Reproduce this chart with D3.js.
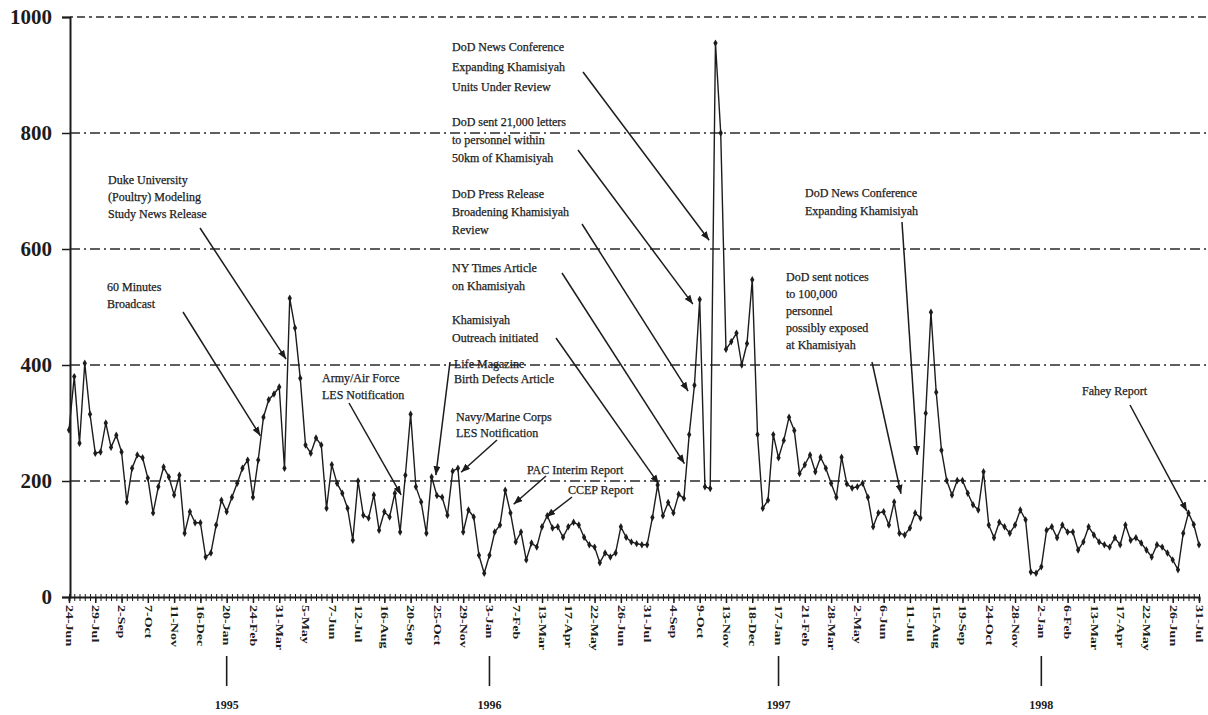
<!DOCTYPE html>
<html>
<head>
<meta charset="utf-8">
<script src="https://cdn.jsdelivr.net/npm/d3@7"></script>
<style>
  body { margin: 0; background: #fff; }
  #container { width: 1208px; height: 715px; overflow: hidden; }
</style>
</head>
<body>
<div id="container"></div>
<script>
let w = 1208;
let h = 715;

// weekly counts, 24-Jun-1994 .. 31-Jul-1998
let weeklyCounts = [
  288, 380, 265, 403, 315, 248, 250, 300, 258, 279,
  250, 164, 222, 245, 240, 205, 145, 190, 224, 207,
  176, 210, 110, 147, 128, 128, 69, 76, 124, 167,
  147, 172, 196, 222, 236, 172,
  236, 310, 340, 350, 362, 222, 515, 464, 377, 262,
  248, 274, 262, 153, 228, 196, 179, 153, 98, 200,
  141, 136, 176, 115, 147, 138, 179, 112, 210, 315,
  190, 164, 110, 207, 175, 172, 141, 217, 222, 112,
  150, 138, 72, 41, 72, 112, 124, 184, 145, 95,
  112, 64, 93, 86, 121, 140, 119, 121, 103, 121,
  129, 124, 103, 90, 86, 59, 76, 69, 76, 121,
  103, 95, 92, 90, 90,
  137, 193, 140, 163, 145, 177, 170, 280, 365, 513,
  190, 187, 955, 800, 427, 440, 455, 400, 437, 547,
  280, 153, 167, 280, 240, 270, 310, 287, 213, 228,
  245, 216, 241, 222, 196, 172, 241, 195, 188, 190,
  196, 172, 121, 145, 147, 124, 164, 110, 107, 119,
  145, 136, 317, 491, 353, 253, 201, 176, 201, 201,
  179, 159, 150, 216, 124, 102, 129, 121, 110, 124,
  150, 133, 43, 41, 52, 115, 121, 102, 124, 112,
  112, 81, 95, 121, 107, 95, 90, 86, 102, 90,
  124, 98, 102, 93, 81, 69, 90, 86, 76, 64,
  47, 110, 145, 125, 90
];

// one label every 5 weeks
let dateLabels = ["24-Jun", "29-Jul", "2-Sep", "7-Oct", "11-Nov", "16-Dec", "20-Jan", "24-Feb",
  "31-Mar", "5-May", "7-Jun", "12-Jul", "16-Aug", "20-Sep", "25-Oct", "29-Nov", "3-Jan",
  "7-Feb", "13-Mar", "17-Apr", "22-May", "26-Jun", "31-Jul", "4-Sep", "9-Oct", "13-Nov",
  "18-Dec", "17-Jan", "21-Feb", "28-Mar", "2-May", "6-Jun", "11-Jul", "15-Aug", "19-Sep",
  "24-Oct", "28-Nov", "2-Jan", "6-Feb", "13-Mar", "17-Apr", "22-May", "26-Jun", "31-Jul"];

let yearLabels = ["1995", "1996", "1997", "1998"];
let yearWeeks = [30, 80, 135, 185];

let yTicks = [0, 200, 400, 600, 800, 1000];

let noteText = [
  ["Duke University", "(Poultry) Modeling", "Study News Release"],
  ["60 Minutes", "Broadcast"],
  ["Army/Air Force", "LES Notification"],
  ["DoD News Conference", "Expanding Khamisiyah", "Units Under Review"],
  ["DoD sent 21,000 letters", "to personnel within", "50km of Khamisiyah"],
  ["DoD Press Release", "Broadening Khamisiyah", "Review"],
  ["NY Times Article", "on Khamisiyah"],
  ["Khamisiyah", "Outreach initiated"],
  ["Life Magazine", "Birth Defects Article"],
  ["Navy/Marine Corps", "LES Notification"],
  ["PAC Interim Report"],
  ["CCEP Report"],
  ["DoD News Conference", "Expanding Khamisiyah"],
  ["DoD sent notices", "to 100,000", "personnel", "possibly exposed", "at Khamisiyah"],
  ["Fahey Report"]
];

// where each arrow points: [week index, value]
let noteTarget = [
  [41.3, 410], [36.4, 278], [63.2, 176], [121.8, 615], [118.7, 505],
  [117.8, 355], [117.1, 230], [112.2, 195], [69.8, 210], [74.6, 215],
  [84.6, 160], [90.8, 138], [161.4, 245], [158.3, 178], [212.7, 148]
];

// text x, first baseline, line height, arrow start x, arrow start y
let noteLayout = [
  [108, 184, 17, 200, 228],
  [107, 291, 17, 183, 312],
  [322, 382, 17, 349, 403],
  [452, 51, 20, 583, 72],
  [452, 126, 18, 578, 150],
  [452, 198, 18, 582, 224],
  [452, 272, 18, 562, 273],
  [452, 324, 18, 556, 338],
  [454, 368, 15, 450, 362],
  [456, 421, 16, 497, 440],
  [527, 474, 16, 546, 476],
  [568, 494, 16, 572, 497],
  [805, 197, 18, 902, 222],
  [786, 281, 17, 872, 362],
  [1082, 395, 16, 1130, 405]
];

let serif = "'Liberation Serif', 'Times New Roman', serif";
let ink = "#1c1c1c";

let viz = d3.select("#container")
  .append("svg")
  .attr("width", w)
  .attr("height", h)
  .style("background-color", "rgb(255,255,255)");

let xScale = d3.scaleLinear().domain([0, weeklyCounts.length - 1]).range([69, 1199]);
let yScale = d3.scaleLinear().domain([0, 1000]).range([597, 17]);

// dash-dot grid lines
viz.append("g")
  .selectAll("line")
  .data(yTicks.filter(d => d > 0))
  .enter()
  .append("line")
  .attr("x1", 70)
  .attr("x2", 1206)
  .attr("y1", d => yScale(d))
  .attr("y2", d => yScale(d))
  .attr("stroke", "#2a2a2a")
  .attr("stroke-width", 1.6)
  .attr("stroke-dasharray", d => d == 1000 ? "3,4,8,4" : "10,4,2,4");

// y axis
let yAxis = d3.axisLeft(yScale).tickValues(yTicks).tickSize(8).tickPadding(10).tickFormat(d3.format("d"));
let yAxisGroup = viz.append("g").attr("transform", "translate(70,0)").call(yAxis);
yAxisGroup.select(".domain").attr("stroke", ink).attr("stroke-width", 2);
yAxisGroup.selectAll(".tick line").attr("stroke", ink).attr("stroke-width", 1.5);
yAxisGroup.selectAll("text")
  .attr("font-family", serif)
  .attr("font-size", "21px")
  .attr("font-weight", "bold")
  .attr("fill", ink);

// weekly tick band along the x axis
let weeks = d3.range(weeklyCounts.length);
let xAxisDown = d3.axisBottom(xScale).tickValues(weeks).tickSize(4).tickFormat("");
let xAxisUp = d3.axisTop(xScale).tickValues(weeks).tickSize(3).tickFormat("");
let xDown = viz.append("g").attr("transform", "translate(0,597)").call(xAxisDown);
let xUp = viz.append("g").attr("transform", "translate(0,597)").call(xAxisUp);
xDown.select(".domain").attr("stroke", ink).attr("stroke-width", 2);
xUp.select(".domain").remove();
viz.selectAll(".tick line").attr("stroke", ink);

// date labels every 5 weeks
let labelAxis = d3.axisBottom(xScale)
  .tickValues(d3.range(0, weeklyCounts.length, 5))
  .tickSize(6)
  .tickFormat(d => dateLabels[d / 5]);
let labelGroup = viz.append("g").attr("transform", "translate(0,597)").call(labelAxis);
labelGroup.select(".domain").remove();
labelGroup.selectAll(".tick line").attr("stroke", ink).attr("stroke-width", 1.5);
labelGroup.selectAll("text")
  .attr("transform", "rotate(90) scale(1,0.75)")
  .attr("x", 8)
  .attr("y", 0)
  .attr("dy", "0.35em")
  .attr("text-anchor", "start")
  .attr("font-family", serif)
  .attr("font-size", "14px")
  .attr("font-weight", "bold")
  .attr("fill", ink);

// year markers
let years = viz.append("g");
years.selectAll("line")
  .data(yearWeeks)
  .enter()
  .append("line")
  .attr("x1", d => xScale(d))
  .attr("x2", d => xScale(d))
  .attr("y1", 656)
  .attr("y2", 686)
  .attr("stroke", ink)
  .attr("stroke-width", 1.6);
years.selectAll("text")
  .data(yearWeeks)
  .enter()
  .append("text")
  .attr("x", d => xScale(d))
  .attr("y", 709)
  .attr("text-anchor", "middle")
  .attr("font-family", serif)
  .attr("font-size", "12px")
  .attr("font-weight", "bold")
  .attr("fill", ink)
  .text((d, i) => yearLabels[i]);

// data line + markers
let line = d3.line()
  .x((d, i) => xScale(i))
  .y(d => yScale(d));

viz.append("path")
  .datum(weeklyCounts)
  .attr("fill", "none")
  .attr("stroke", ink)
  .attr("stroke-width", 1.4)
  .attr("stroke-linejoin", "round")
  .attr("d", line);

let diamond = d3.symbol().type(d3.symbolDiamond).size(16);
viz.append("g")
  .selectAll("path")
  .data(weeklyCounts)
  .enter()
  .append("path")
  .attr("d", diamond)
  .attr("fill", ink)
  .attr("transform", (d, i) => "translate(" + xScale(i) + "," + yScale(d) + ")");

// annotations
viz.append("defs").append("marker")
  .attr("id", "arrowhead")
  .attr("markerUnits", "userSpaceOnUse")
  .attr("markerWidth", 9)
  .attr("markerHeight", 7)
  .attr("refX", 9)
  .attr("refY", 3.5)
  .attr("orient", "auto")
  .append("path")
  .attr("d", "M0,0 L9,3.5 L0,7 Z")
  .attr("fill", ink);

let notes = viz.append("g");
noteText.forEach((lines, k) => {
  let lay = noteLayout[k];
  let tgt = noteTarget[k];
  let t = notes.append("text")
    .attr("font-family", serif)
    .attr("font-size", "12px")
    .attr("stroke", ink)
    .attr("stroke-width", 0.25)
    .attr("fill", ink);
  lines.forEach((s, j) => {
    t.append("tspan")
      .attr("x", lay[0])
      .attr("y", lay[1] + j * lay[2])
      .text(s);
  });
  notes.append("line")
    .attr("x1", lay[3])
    .attr("y1", lay[4])
    .attr("x2", xScale(tgt[0]))
    .attr("y2", yScale(tgt[1]))
    .attr("stroke", ink)
    .attr("stroke-width", 1.5)
    .attr("marker-end", "url(#arrowhead)");
});
</script>
</body>
</html>
